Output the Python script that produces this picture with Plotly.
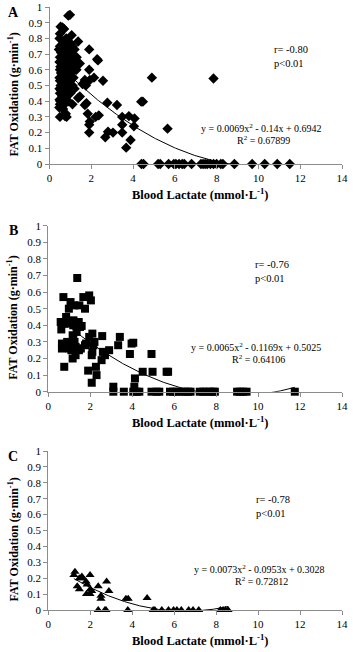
import numpy as np
import plotly.graph_objects as go

# ---------------- data ----------------
# Panel A (diamonds)
a_x = [0.5, 0.48, 0.5, 0.45, 0.55, 0.5, 0.48, 0.52, 0.5, 0.55, 0.48, 0.5, 0.53, 0.48, 0.55, 0.5, 0.48, 0.52, 0.5, 0.47, 0.5,
       0.62, 0.68, 0.65, 0.7, 0.62, 0.68, 0.6, 0.72, 0.65, 0.7, 0.62, 0.68, 0.73, 0.6, 0.66, 0.7, 0.62, 0.68, 0.72, 0.65, 0.74,
       0.8, 0.85, 0.9, 0.8, 0.88, 0.82, 0.92, 0.8, 0.86, 0.9, 0.8, 0.85, 0.92, 0.82, 0.88, 0.8, 0.9, 0.82, 0.78,
       1.06, 1.0, 1.1, 1.2, 1.05, 1.15, 1.3, 1.0, 1.25, 1.1, 1.45, 1.29, 1.05, 1.15, 1.0, 1.1, 1.2, 1.0, 1.1, 1.37,
       0.9, 0.98, 0.53, 0.69, 1.9, 2.28, 2.32, 1.9, 2.56, 2.13, 1.93, 1.69, 1.74, 1.58, 1.45, 1.37, 1.77, 1.69,
       2.77, 3.23, 4.39, 4.47, 0.74, 1.83, 1.93, 1.9, 1.9, 2.21, 2.36, 2.67, 2.8, 3.04, 3.48, 3.8, 4.07, 3.48,
       4.04, 3.48, 3.88, 3.67, 4.9, 5.65, 7.85,
       4.4, 4.5, 5.2, 5.3, 5.7, 5.95, 6.05, 6.2, 6.35, 6.45, 6.8, 7.25, 7.35, 7.45, 7.55, 7.7, 7.85, 8.0, 8.2,
       8.3, 8.85, 9.7, 10.3, 10.9, 11.5]
a_y = [0.83, 0.80, 0.75, 0.73, 0.71, 0.68, 0.65, 0.62, 0.60, 0.58, 0.55, 0.53, 0.50, 0.48, 0.47, 0.45, 0.41, 0.40, 0.38, 0.36, 0.30,
       0.87, 0.86, 0.78, 0.75, 0.72, 0.70, 0.67, 0.65, 0.62, 0.60, 0.57, 0.55, 0.52, 0.50, 0.48, 0.45, 0.43, 0.40, 0.38, 0.35, 0.32,
       0.80, 0.77, 0.74, 0.71, 0.69, 0.66, 0.64, 0.62, 0.60, 0.57, 0.55, 0.52, 0.50, 0.47, 0.44, 0.41, 0.40, 0.30, 0.32,
       0.82, 0.77, 0.75, 0.73, 0.70, 0.68, 0.68, 0.66, 0.65, 0.62, 0.64, 0.60, 0.58, 0.55, 0.53, 0.50, 0.48, 0.45, 0.38, 0.78,
       0.945, 0.95, 0.875, 0.86, 0.73, 0.667, 0.66, 0.60, 0.53, 0.55, 0.535, 0.535, 0.50, 0.51, 0.43, 0.42, 0.387, 0.376,
       0.39, 0.376, 0.397, 0.397, 0.305, 0.32, 0.27, 0.25, 0.20, 0.30, 0.31, 0.17, 0.205, 0.20, 0.30, 0.305, 0.29, 0.25,
       0.24, 0.20, 0.153, 0.104, 0.55, 0.225, 0.545,
       0, 0, 0, 0, 0, 0, 0, 0, 0, 0, 0, 0, 0, 0, 0, 0, 0, 0, 0,
       0, 0, 0, 0, 0, 0]
a_coef = [0.0069, -0.14, 0.6942]

# Panel B (squares)
b_x = [0.59, 0.62, 0.65, 0.65, 0.72, 0.75, 0.76, 0.85, 0.98, 1.0, 1.06, 1.16, 1.19, 1.19, 1.22, 1.35, 1.51, 1.38, 1.48, 1.67,
       1.95, 2.03, 1.75, 1.59, 1.95, 2.1, 1.16, 1.46, 1.75, 2.15, 2.07, 2.1, 2.54, 1.9, 2.27, 2.07, 2.3, 2.57, 2.9, 3.41,
       3.33, 3.97, 4.05, 3.89, 4.92, 4.97, 4.5, 5.64, 5.71, 4.13, 3.1, 4.1, 2.6, 2.7, 1.3, 1.1, 1.25, 0.9, 1.4, 1.8,
       2.2, 1.0, 1.3, 1.55, 1.2, 1.3, 1.45, 0.95,
       3.1, 3.6, 4.05, 4.21, 4.34, 4.92, 5.16, 5.29, 5.8, 5.95, 6.11, 6.35, 6.51, 6.67, 6.78, 7.22, 7.38, 7.54, 7.7,
       7.86, 7.94, 9.0, 9.13, 9.29, 9.45, 11.75]
b_y = [0.42, 0.375, 0.29, 0.26, 0.57, 0.41, 0.15, 0.45, 0.50, 0.41, 0.54, 0.34, 0.33, 0.40, 0.52, 0.36, 0.39, 0.685, 0.52, 0.57,
       0.58, 0.55, 0.50, 0.396, 0.33, 0.35, 0.20, 0.25, 0.28, 0.28, 0.22, 0.24, 0.19, 0.127, 0.15, 0.054, 0.10, 0.335, 0.25, 0.33,
       0.28, 0.29, 0.295, 0.227, 0.227, 0.12, 0.12, 0.12, 0.12, 0.08, 0.03, 0.03, 0.24, 0.22, 0.27, 0.25, 0.30, 0.30, 0.26, 0.29,
       0.30, 0.26, 0.22, 0.26, 0.43, 0.42, 0.42, 0.28,
       0, 0, 0, 0, 0, 0, 0, 0, 0, 0, 0, 0, 0, 0, 0, 0, 0, 0, 0,
       0, 0, 0, 0, 0, 0, 0]
b_coef = [0.0065, -0.1169, 0.5025]

# Panel C (triangles)
c_x = [1.27, 1.22, 1.48, 1.64, 1.99, 1.8, 1.85, 1.38, 1.48, 2.38, 2.78, 2.89, 1.82, 1.99, 2.07, 2.51, 2.51, 3.7, 3.81, 4.71,
       1.6, 2.0,
       2.38, 2.7, 2.75, 3.79, 5.0, 5.08, 5.41, 5.73, 5.97, 6.13, 6.34, 6.69, 6.9, 7.17, 8.2, 8.33, 8.45, 8.57]
c_y = [0.24, 0.22, 0.20, 0.20, 0.22, 0.18, 0.16, 0.15, 0.13, 0.15, 0.18, 0.12, 0.10, 0.10, 0.12, 0.09, 0.07, 0.07, 0.07, 0.075,
       0.21, 0.13,
       0, 0, 0, 0, 0, 0, 0, 0, 0, 0, 0, 0, 0, 0, 0, 0, 0, 0]
c_coef = [0.0073, -0.0953, 0.3028]

x_ticks = [0, 2, 4, 6, 8, 10, 12, 14]
y_ticks = [0, 0.1, 0.2, 0.3, 0.4, 0.5, 0.6, 0.7, 0.8, 0.9, 1]
y_tick_text = ["0", "0.1", "0.2", "0.3", "0.4", "0.5", "0.6", "0.7", "0.8", "0.9", "1"]

panels = [
    dict(letter="A", x=a_x, y=a_y, coef=a_coef, symbol="diamond", size=8,
         r="r= -0.80", eq="y = 0.0069x<sup>2</sup> - 0.14x + 0.6942", r2="R<sup>2</sup> = 0.67899"),
    dict(letter="B", x=b_x, y=b_y, coef=b_coef, symbol="square", size=8,
         r="r= -0.76", eq="y = 0.0065x<sup>2</sup> - 0.1169x + 0.5025", r2="R<sup>2</sup> = 0.64106"),
    dict(letter="C", x=c_x, y=c_y, coef=c_coef, symbol="triangle-up", size=8,
         r="r= -0.78", eq="y = 0.0073x<sup>2</sup> - 0.0953x + 0.3028", r2="R<sup>2</sup> = 0.72812"),
]

# ---------------- layout geometry (pixels) ----------------
W, H = 353, 652
geo = [  # x0, x1, ytop, ybottom (pixel)
    (49.5, 342, 7, 164),
    (48.3, 342, 225.7, 391.7),
    (48.3, 342, 451, 610),
]
px = lambda v: v / W
py = lambda v: 1 - v / H

SERIF = "Liberation Serif"
fig = go.Figure()
annotations = []
layout = {}

for i, (p, g) in enumerate(zip(panels, geo)):
    n = "" if i == 0 else str(i + 1)
    xa, ya = "x" + n, "y" + n
    fig.add_trace(go.Scatter(
        x=p["x"], y=p["y"], mode="markers", xaxis=xa, yaxis=ya,
        marker=dict(symbol=p["symbol"], size=p["size"], color="black", line=dict(width=0)),
        cliponaxis=False, showlegend=False))
    xs = np.linspace(min(p["x"]), max(p["x"]), 300)
    a, b, c = p["coef"]
    fig.add_trace(go.Scatter(
        x=xs, y=a * xs ** 2 + b * xs + c, mode="lines", xaxis=xa, yaxis=ya,
        line=dict(color="black", width=1), showlegend=False, hoverinfo="skip"))

    x0, x1, yt, yb = g
    layout["xaxis" + n] = dict(
        domain=[px(x0), px(x1)], range=[0, 14], tickvals=x_ticks, anchor=ya,
        showline=True, linecolor="#8c8c8c", linewidth=1, ticks="outside", ticklen=4,
        tickcolor="#8c8c8c", showgrid=False, zeroline=False,
        tickfont=dict(family=SERIF, size=11, color="black"), automargin=False)
    layout["yaxis" + n] = dict(
        domain=[py(yb), py(yt)], range=[0, 1], tickvals=y_ticks, ticktext=y_tick_text, anchor=xa,
        showline=True, linecolor="#8c8c8c", linewidth=1, ticks="outside", ticklen=4,
        tickcolor="#8c8c8c", showgrid=False, zeroline=False,
        tickfont=dict(family=SERIF, size=11, color="black"), automargin=False)

    # panel letter
    annotations.append(dict(text="<b>%s</b>" % p["letter"], x=px(13), y=py(yt + 5), xref="paper", yref="paper",
                            showarrow=False, font=dict(family=SERIF, size=14, color="black"),
                            xanchor="center", yanchor="middle"))
    # axis titles
    annotations.append(dict(text="<b>Blood Lactate (mmol·L<sup>-1</sup>)</b>", x=px(200), y=py(yb + 30),
                            xref="paper", yref="paper", showarrow=False,
                            font=dict(family=SERIF, size=12.5, color="black"),
                            xanchor="center", yanchor="middle"))
    annotations.append(dict(text="<b>FAT Oxidation (g·min<sup>-1</sup>)</b>", x=px(13), y=py((yt + yb) / 2 + 9),
                            xref="paper", yref="paper", showarrow=False, textangle=-90,
                            font=dict(family=SERIF, size=12, color="black"),
                            xanchor="center", yanchor="middle"))
    # r / p
    rp_y = [48, 263, 498][i]
    rp_x = [272, 253, 254][i]
    annotations.append(dict(text=p["r"] + "<br>p<0.01", x=px(rp_x), y=py(rp_y - 6), xref="paper", yref="paper",
                            showarrow=False, align="left", xanchor="left", yanchor="top",
                            font=dict(family=SERIF, size=10.5, color="black")))
    # equation
    eq_y = [128, 346.7, 569.3][i]
    eq_x = [261, 256, 259][i]
    annotations.append(dict(text=p["eq"], x=px(eq_x), y=py(eq_y), xref="paper", yref="paper",
                            showarrow=False, xanchor="center", yanchor="middle",
                            font=dict(family=SERIF, size=10, color="black")))
    annotations.append(dict(text=p["r2"], x=px(eq_x + 2), y=py(eq_y + 12), xref="paper", yref="paper",
                            showarrow=False, xanchor="center", yanchor="middle",
                            font=dict(family=SERIF, size=10, color="black")))

fig.update_layout(
    width=W, height=H, margin=dict(l=0, r=0, t=0, b=0),
    paper_bgcolor="white", plot_bgcolor="white",
    annotations=annotations, **layout)

fig.write_html("out.html")
